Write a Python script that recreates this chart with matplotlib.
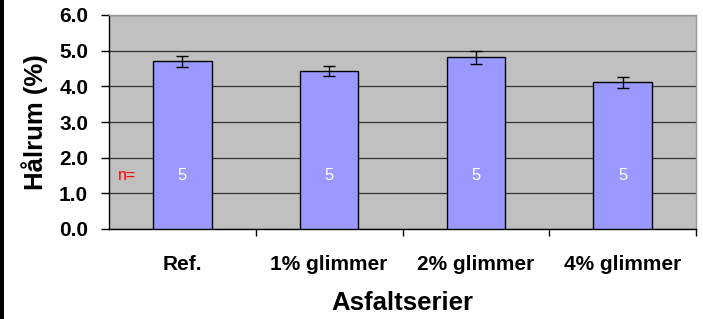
import matplotlib
matplotlib.use("Agg")
import matplotlib.pyplot as plt
from matplotlib.patches import Rectangle

categories = ["Ref.", "1% glimmer", "2% glimmer", "4% glimmer"]
values = [4.70, 4.43, 4.81, 4.11]
errors = [0.16, 0.145, 0.18, 0.16]
n_labels = ["5", "5", "5", "5"]
y_ticks = [0.0, 1.0, 2.0, 3.0, 4.0, 5.0, 6.0]

plt.rcParams['font.family'] = ['Liberation Sans', 'DejaVu Sans']

fig = plt.figure(figsize=(7.03, 3.19), dpi=100)
fig.patch.set_facecolor('white')
fig.patches.append(Rectangle((0, 0), 4/703, 1, transform=fig.transFigure,
                             facecolor='black', edgecolor='none'))

ax = fig.add_axes([109/703, 1-229/319, (696-109)/703, (229-15)/319])
ax.set_facecolor('#C0C0C0')

x = list(range(len(categories)))
ax.bar(x, values, width=0.4, color='#9999FF', edgecolor='black', linewidth=1.0, zorder=3)
ax.errorbar(x, values, yerr=errors, fmt='none', ecolor='black', elinewidth=1.0,
            capsize=4, capthick=1.0, zorder=4)

for xi, lab in zip(x, n_labels):
    ax.text(xi, 1.5, lab, color='white', ha='center', va='center', fontsize=12, zorder=5)
ax.text(-0.5 + 0.12, 1.5, "n=", color='red', ha='center', va='center', fontsize=11.5, zorder=5)

ax.set_xlim(-0.5, len(categories) - 0.5)
ax.set_ylim(0, 6)
ax.set_yticks(y_ticks)
ax.set_yticklabels([f"{v:.1f}" for v in y_ticks], fontsize=15, fontweight='bold')
ax.yaxis.grid(True, color='#333333', linewidth=0.9, zorder=1)
ax.set_axisbelow(True)

ax.set_xticks(x)
ax.set_xticklabels(categories, fontsize=15, fontweight='bold')
ax.tick_params(axis='x', length=0, pad=19)
ax.set_xticks([i + 0.5 for i in range(len(categories))], minor=True)
ax.tick_params(axis='x', which='minor', length=5, width=1, direction='out')
ax.tick_params(axis='y', length=6, width=1, direction='out', pad=9)

for s in ['top', 'right']:
    ax.spines[s].set_color('#999999')
    ax.spines[s].set_linewidth(1.0)
for s in ['left', 'bottom']:
    ax.spines[s].set_color('black')
    ax.spines[s].set_linewidth(1.0)

ax.set_ylabel("Hålrum (%)", fontsize=18.5, fontweight='bold', labelpad=8)
ax.set_xlabel("Asfaltserier", fontsize=18.5, fontweight='bold', labelpad=12)

fig.savefig("out.png", dpi=100)
